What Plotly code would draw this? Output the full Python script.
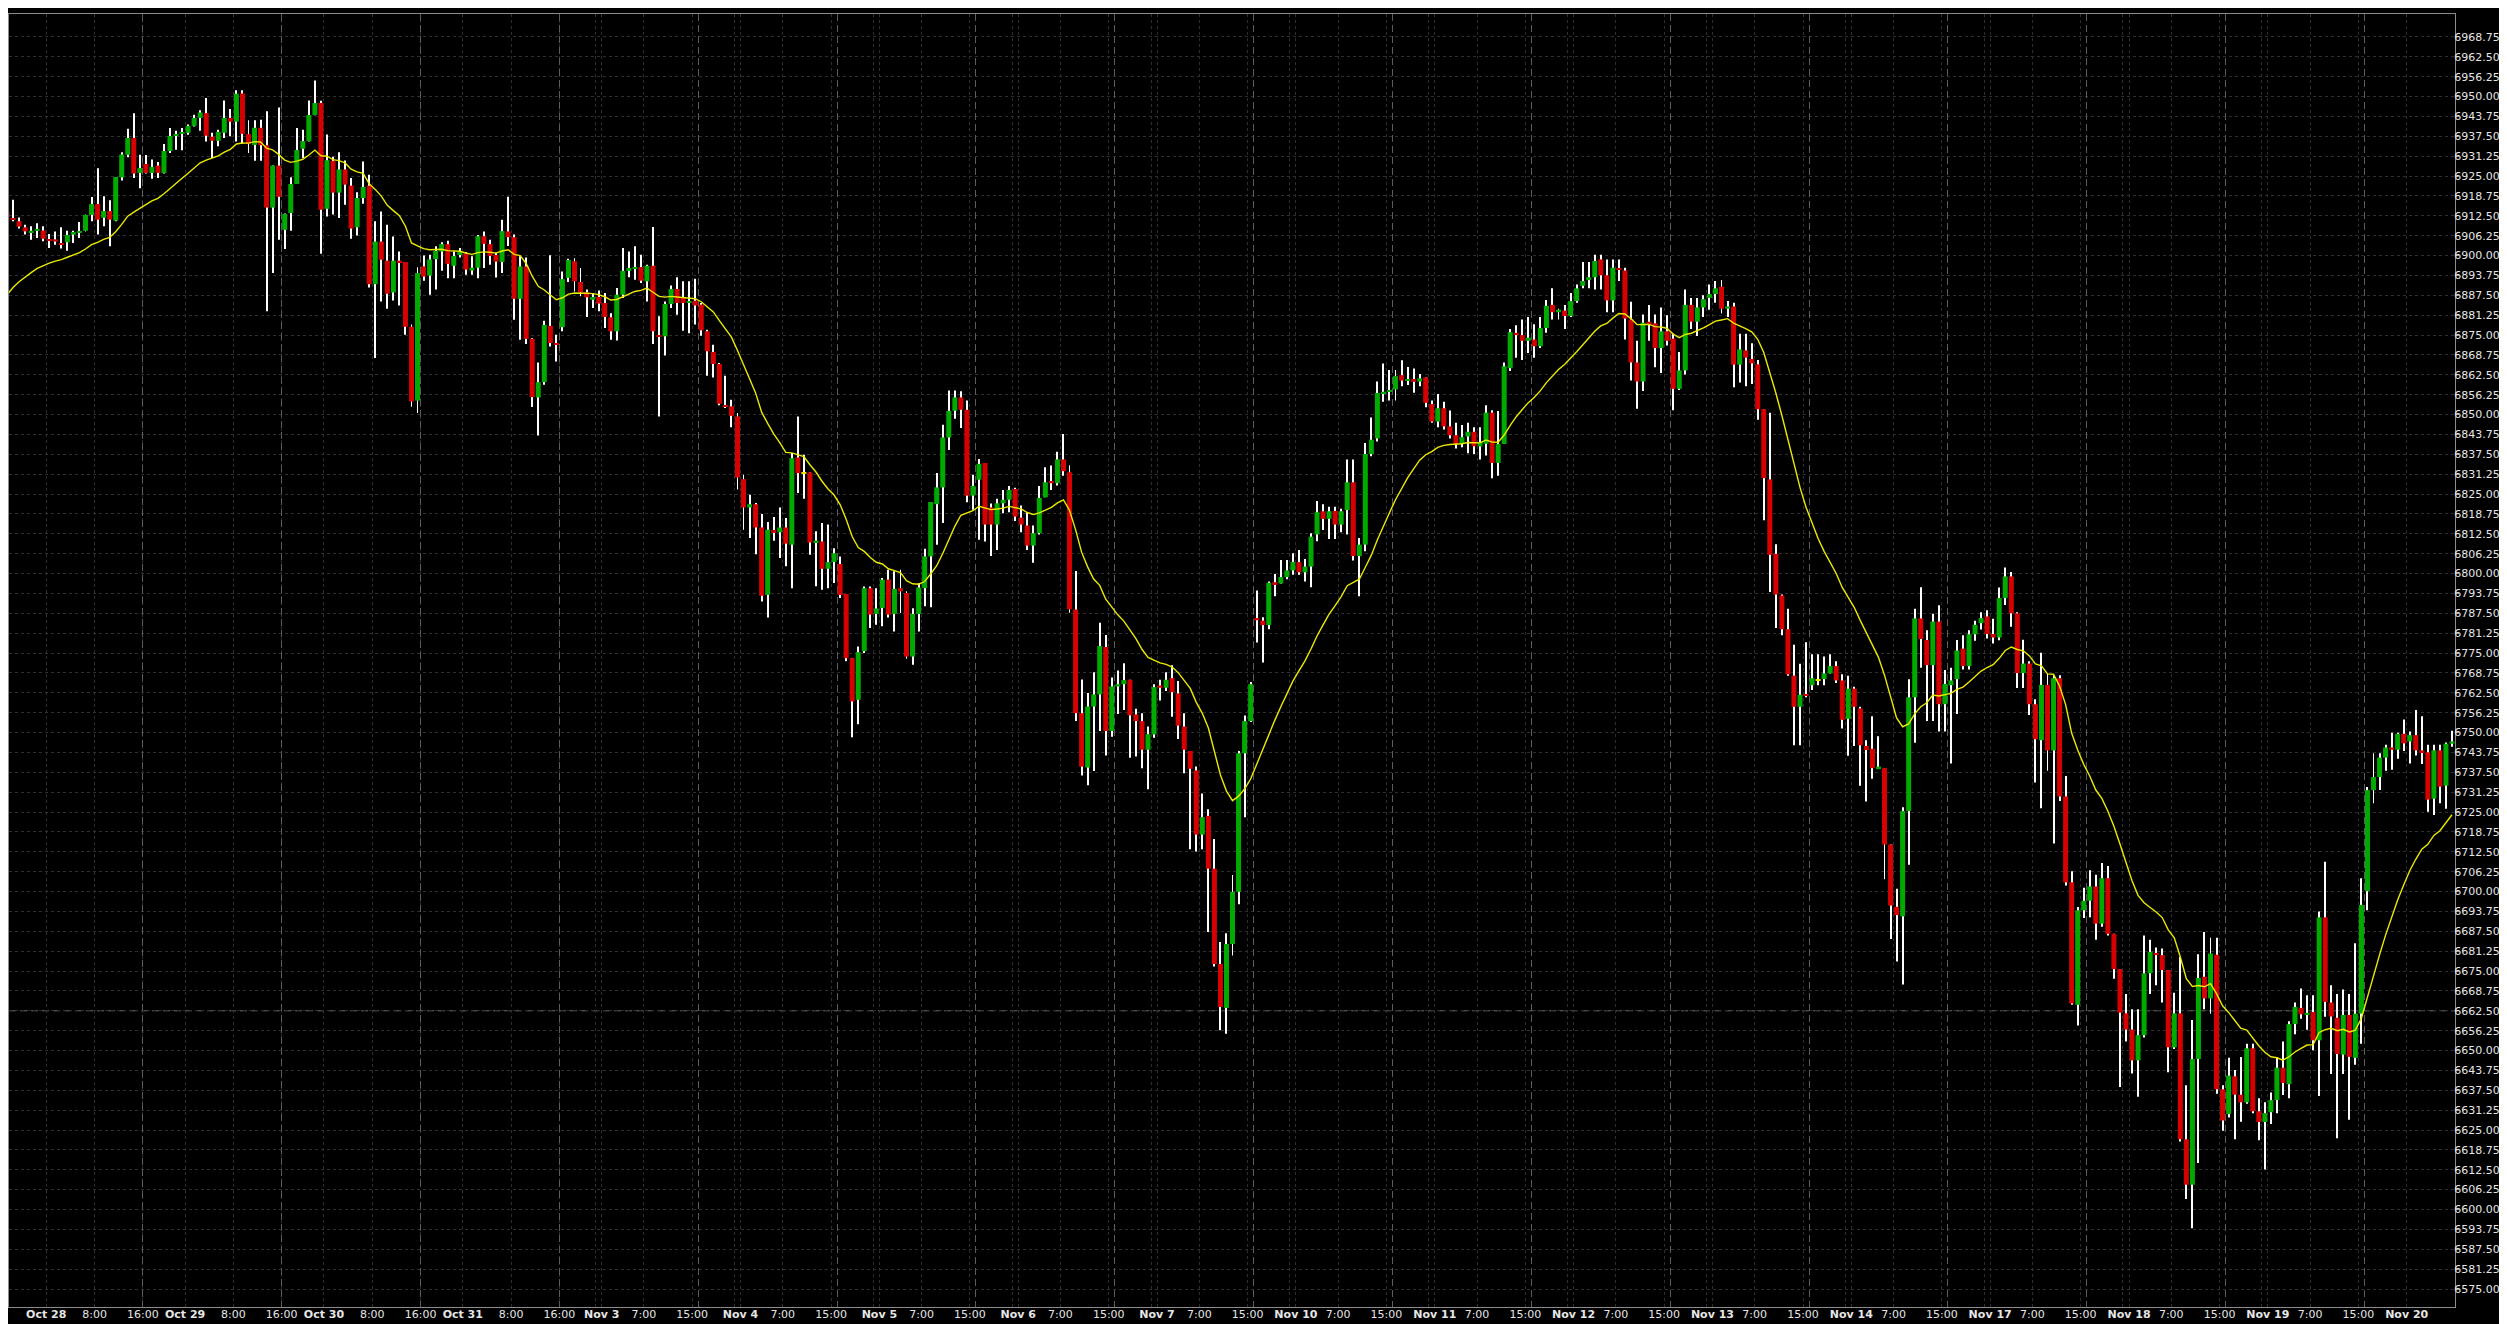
import plotly.graph_objects as go

# ---------------- data (hourly bars) ----------------
OPEN = [
6913.7, 6911.8, 6910.8, 6908.9, 6907.4, 6907.8, 6907.9, 6905.1, 6905.1, 6903.9,
6904.2, 6906.6, 6907.2, 6907.8, 6912.8, 6916.2, 6911.9, 6914.0, 6911.0, 6924.6,
6931.7, 6937.0, 6926.0, 6928.8, 6926.0, 6928.3, 6926.0, 6932.9, 6937.7, 6938.4,
6938.6, 6940.8, 6943.3, 6944.8, 6937.4, 6936.1, 6938.6, 6943.3, 6942.1, 6951.0,
6938.2, 6934.8, 6940.2, 6934.7, 6915.1, 6928.3, 6908.1, 6913.4, 6922.5, 6933.6,
6936.0, 6944.2, 6948.0, 6914.7, 6929.8, 6919.8, 6927.1, 6922.0, 6908.9, 6918.1,
6922.0, 6891.0, 6904.4, 6898.4, 6888.4, 6898.4, 6898.0, 6877.6, 6854.4, 6896.6,
6893.7, 6898.9, 6901.3, 6903.6, 6896.8, 6900.5, 6900.7, 6895.3, 6896.2, 6906.1,
6903.6, 6900.2, 6898.0, 6907.6, 6905.8, 6886.4, 6896.6, 6873.8, 6855.4, 6860.2,
6877.9, 6872.5, 6877.5, 6893.0, 6898.2, 6891.7, 6888.5, 6886.1, 6887.0, 6885.1,
6880.6, 6876.2, 6887.7, 6895.2, 6895.9, 6896.4, 6891.9, 6896.8, 6874.9, 6874.6,
6884.8, 6889.5, 6886.9, 6885.1, 6885.8, 6884.6, 6876.2, 6869.7, 6865.9, 6852.9,
6852.6, 6849.4, 6829.7, 6820.8, 6821.8, 6814.5, 6793.3, 6813.7, 6813.0, 6814.5,
6809.1, 6836.5, 6831.4, 6831.8, 6809.6, 6810.1, 6801.5, 6803.6, 6803.0, 6793.6,
6773.4, 6760.3, 6775.6, 6795.4, 6787.3, 6789.2, 6798.1, 6787.3, 6795.4, 6793.9,
6773.9, 6787.3, 6795.4, 6805.4, 6821.8, 6827.1, 6842.8, 6851.2, 6855.4, 6851.5,
6824.5, 6829.5, 6834.8, 6820.8, 6815.4, 6822.1, 6823.2, 6826.6, 6817.6, 6815.1,
6808.8, 6812.7, 6824.0, 6829.1, 6828.4, 6835.9, 6831.9, 6788.7, 6756.1, 6739.0,
6758.2, 6762.0, 6776.9, 6750.5, 6764.5, 6765.2, 6766.6, 6755.7, 6753.6, 6744.6,
6749.4, 6764.8, 6764.1, 6767.1, 6762.3, 6751.9, 6744.2, 6738.1, 6717.9, 6723.8,
6707.2, 6677.2, 6663.4, 6683.5, 6699.9, 6743.5, 6753.6, 6786.0, 6785.2, 6783.8,
6797.3, 6796.9, 6798.9, 6801.0, 6803.6, 6800.4, 6802.2, 6812.3, 6819.6, 6817.2,
6819.7, 6815.4, 6820.0, 6828.7, 6805.5, 6809.1, 6837.6, 6842.5, 6856.7, 6857.1,
6857.9, 6862.4, 6860.7, 6861.2, 6860.4, 6861.7, 6853.3, 6847.8, 6852.0, 6846.3,
6843.5, 6840.8, 6843.1, 6844.6, 6840.0, 6840.8, 6850.6, 6834.8, 6840.8, 6864.6,
6875.7, 6875.0, 6873.2, 6873.6, 6871.5, 6877.2, 6884.5, 6882.2, 6882.7, 6881.0,
6885.7, 6890.5, 6892.3, 6893.2, 6898.8, 6893.8, 6885.9, 6896.1, 6895.3, 6879.9,
6866.4, 6860.4, 6879.2, 6878.7, 6870.9, 6876.2, 6873.9, 6858.1, 6863.9, 6884.5,
6879.2, 6883.7, 6886.7, 6887.9, 6890.2, 6883.3, 6884.0, 6865.7, 6870.2, 6867.5,
6865.8, 6851.7, 6829.6, 6806.2, 6793.1, 6782.5, 6767.9, 6758.1, 6762.1, 6764.9,
6766.4, 6766.8, 6768.6, 6770.9, 6766.4, 6754.3, 6763.8, 6757.6, 6745.8, 6744.9,
6738.5, 6738.8, 6714.8, 6695.2, 6692.2, 6725.3, 6761.1, 6785.9, 6779.1, 6771.2,
6784.9, 6758.9, 6764.9, 6766.8, 6776.4, 6770.9, 6780.9, 6784.4, 6786.5, 6781.0,
6779.9, 6792.3, 6799.1, 6787.5, 6768.7, 6771.7, 6758.9, 6747.6, 6765.0, 6744.4,
6767.1, 6729.9, 6702.9, 6664.4, 6694.1, 6697.1, 6701.6, 6689.9, 6704.2, 6686.7,
6675.6, 6661.7, 6656.6, 6646.9, 6654.8, 6674.3, 6680.7, 6680.0, 6675.3, 6651.0,
6661.7, 6622.1, 6607.8, 6647.3, 6673.2, 6666.4, 6680.1, 6637.8, 6630.0, 6641.9,
6636.1, 6633.7, 6650.7, 6630.9, 6627.5, 6630.6, 6634.4, 6644.6, 6639.4, 6658.3,
6663.4, 6661.4, 6662.1, 6653.2, 6691.9, 6665.1, 6660.3, 6648.7, 6661.2, 6647.7,
6661.6, 6700.1, 6731.9, 6736.0, 6742.1, 6745.3, 6744.6, 6749.6, 6747.2, 6749.2,
6744.4, 6743.8, 6729.2, 6744.4, 6733.3, 6746.5,
]

HIGH = [
6915.0, 6917.6, 6912.0, 6909.7, 6909.2, 6910.2, 6909.2, 6906.8, 6907.6, 6908.9,
6907.8, 6907.8, 6910.6, 6912.9, 6918.4, 6927.5, 6918.7, 6917.4, 6924.7, 6932.5,
6939.9, 6944.8, 6931.7, 6931.6, 6930.2, 6929.4, 6935.1, 6940.1, 6939.3, 6940.1,
6941.2, 6944.3, 6945.7, 6949.6, 6938.6, 6939.6, 6948.8, 6946.1, 6952.0, 6952.0,
6942.6, 6942.6, 6942.7, 6945.4, 6928.3, 6946.6, 6913.2, 6924.6, 6940.1, 6939.6,
6948.8, 6955.1, 6948.7, 6938.1, 6931.1, 6932.5, 6929.9, 6924.4, 6919.9, 6929.6,
6925.4, 6910.8, 6913.9, 6909.7, 6906.0, 6901.3, 6898.0, 6878.3, 6896.3, 6900.0,
6900.3, 6902.9, 6904.2, 6904.7, 6901.3, 6902.4, 6901.1, 6899.8, 6906.5, 6907.6,
6905.0, 6901.0, 6911.3, 6918.5, 6906.6, 6899.8, 6899.4, 6874.0, 6866.4, 6879.5,
6900.1, 6875.1, 6895.0, 6899.0, 6899.2, 6896.1, 6889.3, 6888.2, 6889.0, 6888.2,
6881.9, 6889.8, 6902.4, 6901.3, 6902.9, 6900.3, 6897.1, 6909.0, 6880.9, 6885.6,
6890.6, 6893.2, 6891.9, 6891.9, 6892.7, 6885.1, 6876.7, 6872.0, 6866.2, 6862.2,
6854.7, 6850.5, 6831.1, 6824.8, 6822.2, 6818.7, 6816.2, 6817.8, 6820.8, 6817.5,
6837.9, 6849.4, 6837.4, 6831.8, 6813.3, 6815.9, 6815.4, 6808.0, 6805.4, 6793.6,
6773.4, 6777.1, 6795.9, 6795.9, 6795.4, 6798.6, 6801.2, 6800.7, 6801.2, 6794.4,
6789.1, 6797.0, 6807.8, 6822.5, 6831.6, 6846.8, 6857.6, 6857.6, 6857.3, 6854.4,
6831.1, 6836.0, 6834.8, 6822.0, 6823.5, 6826.3, 6827.5, 6827.0, 6821.4, 6819.3,
6815.1, 6827.5, 6833.4, 6834.0, 6838.3, 6843.9, 6834.1, 6800.8, 6766.7, 6762.4,
6769.0, 6784.5, 6780.7, 6767.3, 6769.5, 6771.8, 6766.6, 6757.5, 6756.1, 6751.9,
6765.2, 6766.6, 6769.0, 6771.2, 6766.2, 6756.1, 6744.2, 6739.3, 6730.8, 6725.9,
6716.5, 6684.1, 6686.9, 6705.2, 6744.2, 6755.4, 6765.9, 6794.7, 6786.3, 6797.5,
6799.9, 6804.3, 6804.3, 6806.4, 6807.4, 6804.6, 6812.7, 6822.8, 6821.8, 6821.0,
6821.0, 6820.4, 6835.9, 6835.9, 6811.2, 6841.1, 6849.1, 6860.4, 6866.1, 6864.0,
6864.0, 6867.1, 6865.0, 6864.5, 6862.8, 6861.7, 6854.4, 6856.5, 6854.0, 6851.3,
6847.4, 6846.7, 6847.4, 6846.0, 6846.0, 6852.9, 6851.4, 6851.1, 6866.4, 6876.9,
6878.1, 6879.9, 6880.7, 6878.4, 6880.7, 6886.0, 6889.7, 6883.3, 6884.5, 6888.2,
6890.9, 6898.0, 6898.0, 6900.3, 6900.3, 6898.8, 6898.8, 6898.8, 6896.2, 6885.5,
6873.2, 6881.5, 6884.5, 6881.5, 6883.7, 6881.2, 6875.4, 6869.7, 6889.3, 6886.7,
6886.7, 6887.5, 6890.9, 6892.0, 6892.3, 6885.7, 6885.2, 6875.4, 6875.4, 6872.4,
6867.2, 6851.7, 6850.6, 6809.2, 6793.4, 6788.9, 6777.6, 6771.6, 6778.4, 6774.6,
6774.6, 6773.9, 6774.6, 6772.4, 6768.3, 6767.9, 6764.4, 6758.1, 6747.6, 6755.1,
6748.8, 6738.8, 6714.8, 6700.9, 6726.5, 6766.8, 6788.9, 6795.7, 6782.2, 6787.4,
6790.0, 6769.7, 6770.4, 6779.1, 6780.6, 6782.2, 6785.2, 6787.8, 6788.5, 6785.8,
6795.6, 6801.9, 6800.5, 6787.8, 6779.2, 6772.4, 6760.5, 6775.1, 6768.7, 6768.0,
6768.0, 6736.3, 6706.4, 6695.1, 6701.2, 6706.7, 6705.3, 6709.0, 6708.0, 6686.7,
6675.6, 6667.8, 6663.0, 6663.0, 6686.2, 6684.8, 6682.4, 6682.1, 6675.3, 6668.2,
6679.4, 6639.1, 6659.6, 6680.3, 6687.3, 6685.5, 6685.5, 6639.1, 6647.7, 6643.9,
6648.0, 6652.1, 6652.1, 6635.0, 6633.7, 6636.8, 6648.0, 6652.8, 6659.2, 6665.1,
6669.5, 6667.4, 6667.4, 6693.7, 6709.4, 6670.5, 6667.8, 6669.2, 6667.8, 6683.7,
6704.2, 6732.9, 6743.5, 6743.5, 6746.2, 6749.9, 6749.9, 6754.1, 6750.3, 6757.1,
6755.1, 6746.2, 6746.2, 6746.2, 6746.9, 6750.6,
]

LOW = [
6911.0, 6910.8, 6908.5, 6906.6, 6905.0, 6905.5, 6904.5, 6902.4, 6903.4, 6902.2,
6901.5, 6904.0, 6905.5, 6907.6, 6910.8, 6906.6, 6909.2, 6902.9, 6910.8, 6923.6,
6930.9, 6924.4, 6921.2, 6925.8, 6924.2, 6924.4, 6925.8, 6932.3, 6933.3, 6933.1,
6938.0, 6940.6, 6939.3, 6935.9, 6930.7, 6934.4, 6937.0, 6937.5, 6935.9, 6935.1,
6932.3, 6929.8, 6929.8, 6882.5, 6894.5, 6905.0, 6902.1, 6907.8, 6922.5, 6930.7,
6935.9, 6944.1, 6900.6, 6912.3, 6912.9, 6911.8, 6916.0, 6905.3, 6906.3, 6916.3,
6890.0, 6867.8, 6885.6, 6883.3, 6885.9, 6884.3, 6875.1, 6852.5, 6850.5, 6892.1,
6887.7, 6889.3, 6895.2, 6892.9, 6892.9, 6899.4, 6894.0, 6894.0, 6892.9, 6896.1,
6897.1, 6893.1, 6894.5, 6903.0, 6879.8, 6873.5, 6872.2, 6852.4, 6843.4, 6859.4,
6871.4, 6866.7, 6876.2, 6891.7, 6888.7, 6887.2, 6880.7, 6883.5, 6882.5, 6877.2,
6873.5, 6873.3, 6886.7, 6893.2, 6892.4, 6891.4, 6885.6, 6872.2, 6849.4, 6868.6,
6883.5, 6881.4, 6876.4, 6875.6, 6878.3, 6874.8, 6862.2, 6861.7, 6852.9, 6852.1,
6846.0, 6826.4, 6813.8, 6811.2, 6806.1, 6791.2, 6786.2, 6810.3, 6804.9, 6802.3,
6795.4, 6825.3, 6823.5, 6805.9, 6796.0, 6794.9, 6795.4, 6797.0, 6792.3, 6772.4,
6748.5, 6752.6, 6775.0, 6782.9, 6783.9, 6783.4, 6786.2, 6781.8, 6787.6, 6773.2,
6771.3, 6781.8, 6789.7, 6789.4, 6809.1, 6815.9, 6838.9, 6848.7, 6845.8, 6822.4,
6820.1, 6810.6, 6810.1, 6805.5, 6807.4, 6819.0, 6819.3, 6816.5, 6813.0, 6807.4,
6803.4, 6812.3, 6824.0, 6826.3, 6827.7, 6830.8, 6787.7, 6753.6, 6736.5, 6733.4,
6737.9, 6750.5, 6742.8, 6748.7, 6755.8, 6757.1, 6742.1, 6742.5, 6738.8, 6732.2,
6748.4, 6760.1, 6763.1, 6755.0, 6748.0, 6737.2, 6713.3, 6712.6, 6713.3, 6687.3,
6676.4, 6656.4, 6655.3, 6679.9, 6696.0, 6723.4, 6753.3, 6778.3, 6772.0, 6782.5,
6792.9, 6796.9, 6798.2, 6799.6, 6799.6, 6797.5, 6795.7, 6810.2, 6813.7, 6810.9,
6810.9, 6813.0, 6812.3, 6804.1, 6792.9, 6807.0, 6836.9, 6841.5, 6854.0, 6854.4,
6854.4, 6858.9, 6859.3, 6856.9, 6858.9, 6852.3, 6847.4, 6846.0, 6845.3, 6842.5,
6839.3, 6839.7, 6837.8, 6837.6, 6835.9, 6837.1, 6830.0, 6830.8, 6840.8, 6863.7,
6867.9, 6867.2, 6869.4, 6867.9, 6870.9, 6875.7, 6879.9, 6879.9, 6876.9, 6880.7,
6885.2, 6889.7, 6889.7, 6889.3, 6889.3, 6882.2, 6882.2, 6892.0, 6873.6, 6860.7,
6851.8, 6857.4, 6873.2, 6864.9, 6863.1, 6871.7, 6851.4, 6857.7, 6862.6, 6876.9,
6874.7, 6880.7, 6883.0, 6885.2, 6881.8, 6880.7, 6858.6, 6860.1, 6858.9, 6859.6,
6848.4, 6816.8, 6794.2, 6782.9, 6780.6, 6767.9, 6746.0, 6746.0, 6761.1, 6763.4,
6764.9, 6764.9, 6768.6, 6765.6, 6751.3, 6742.7, 6745.8, 6733.3, 6728.3, 6735.5,
6738.5, 6703.9, 6685.1, 6678.0, 6670.8, 6708.4, 6746.8, 6770.4, 6753.6, 6753.6,
6750.3, 6750.3, 6740.3, 6755.8, 6769.8, 6769.8, 6778.9, 6782.4, 6779.6, 6778.0,
6779.0, 6790.1, 6783.3, 6764.0, 6764.0, 6755.5, 6734.3, 6726.2, 6738.0, 6715.1,
6728.5, 6701.9, 6664.4, 6657.9, 6691.7, 6691.9, 6684.8, 6688.9, 6686.2, 6672.6,
6638.5, 6652.8, 6642.8, 6635.5, 6654.1, 6667.8, 6670.5, 6665.1, 6643.2, 6650.5,
6621.4, 6603.3, 6594.1, 6614.6, 6663.0, 6661.6, 6636.4, 6624.8, 6628.9, 6622.1,
6627.6, 6633.3, 6630.3, 6621.8, 6612.6, 6626.9, 6630.3, 6636.0, 6635.0, 6655.1,
6660.0, 6656.5, 6650.1, 6635.7, 6660.6, 6642.6, 6622.4, 6642.6, 6628.2, 6645.5,
6652.1, 6694.1, 6727.8, 6731.9, 6738.0, 6738.3, 6741.8, 6744.2, 6740.3, 6742.8,
6740.1, 6725.1, 6724.1, 6727.8, 6726.0, 6745.5,
]

CLOSE = [
6912.0, 6911.3, 6909.1, 6907.6, 6907.8, 6908.4, 6905.3, 6904.7, 6904.4, 6903.4,
6906.5, 6907.4, 6907.7, 6912.8, 6916.2, 6911.3, 6914.0, 6911.3, 6924.7, 6931.8,
6937.0, 6925.8, 6927.5, 6926.0, 6927.9, 6926.0, 6932.9, 6937.6, 6938.2, 6938.8,
6940.8, 6943.3, 6945.0, 6937.7, 6936.1, 6938.9, 6943.3, 6942.1, 6950.9, 6938.3,
6935.1, 6940.2, 6934.7, 6915.1, 6928.3, 6918.5, 6913.1, 6922.5, 6933.2, 6936.0,
6944.2, 6948.0, 6914.4, 6930.0, 6919.8, 6927.1, 6922.3, 6908.5, 6918.1, 6921.6,
6891.0, 6904.4, 6898.7, 6888.0, 6898.4, 6897.8, 6877.6, 6854.1, 6894.5, 6893.4,
6898.8, 6901.5, 6903.6, 6897.4, 6899.9, 6901.1, 6895.6, 6896.2, 6906.1, 6903.7,
6899.9, 6898.1, 6907.7, 6905.8, 6886.4, 6896.6, 6873.8, 6855.5, 6860.2, 6878.2,
6872.5, 6872.0, 6892.6, 6898.6, 6891.9, 6888.5, 6886.9, 6887.0, 6884.9, 6880.7,
6876.2, 6887.7, 6895.2, 6896.1, 6896.4, 6892.1, 6896.8, 6876.2, 6874.5, 6884.8,
6889.5, 6885.1, 6885.1, 6885.4, 6884.3, 6876.5, 6869.9, 6865.9, 6853.4, 6852.4,
6849.6, 6830.2, 6820.8, 6821.8, 6814.5, 6793.0, 6813.8, 6812.8, 6814.5, 6809.4,
6836.3, 6831.6, 6831.4, 6809.8, 6810.4, 6801.5, 6803.6, 6806.4, 6793.3, 6773.4,
6759.8, 6775.3, 6795.4, 6787.1, 6789.0, 6798.1, 6787.1, 6795.2, 6794.4, 6773.9,
6787.3, 6795.6, 6805.4, 6822.5, 6827.1, 6842.8, 6851.2, 6855.4, 6851.5, 6824.5,
6827.6, 6834.5, 6815.4, 6815.4, 6822.1, 6823.2, 6826.3, 6817.9, 6815.4, 6808.8,
6812.7, 6823.8, 6828.7, 6828.4, 6835.9, 6832.2, 6788.8, 6756.1, 6739.3, 6758.2,
6762.0, 6777.2, 6750.5, 6764.5, 6765.2, 6766.5, 6755.4, 6753.6, 6744.6, 6749.5,
6764.3, 6764.1, 6766.6, 6762.7, 6752.2, 6744.6, 6738.6, 6717.9, 6723.4, 6707.2,
6677.2, 6663.7, 6683.5, 6699.9, 6743.5, 6753.6, 6765.2, 6785.3, 6783.8, 6797.1,
6796.7, 6798.9, 6801.0, 6803.6, 6800.4, 6802.2, 6811.6, 6819.3, 6817.2, 6819.6,
6815.4, 6819.6, 6828.7, 6805.5, 6809.1, 6837.6, 6842.1, 6856.8, 6857.2, 6857.5,
6862.1, 6860.7, 6861.2, 6860.3, 6861.4, 6853.7, 6847.8, 6852.0, 6846.3, 6843.5,
6840.8, 6842.9, 6844.6, 6840.0, 6841.4, 6850.6, 6834.8, 6840.8, 6865.2, 6875.9,
6875.0, 6873.2, 6874.2, 6871.5, 6877.2, 6884.2, 6882.2, 6883.0, 6881.0, 6885.7,
6889.7, 6892.0, 6893.2, 6898.3, 6893.8, 6885.9, 6896.2, 6895.5, 6880.2, 6866.4,
6860.4, 6878.9, 6878.6, 6870.9, 6876.2, 6873.2, 6858.1, 6863.9, 6884.5, 6879.2,
6883.7, 6886.3, 6887.9, 6889.7, 6883.3, 6884.0, 6865.7, 6870.5, 6867.9, 6866.1,
6851.7, 6830.0, 6805.9, 6793.4, 6782.5, 6768.3, 6758.1, 6761.9, 6761.5, 6767.1,
6766.4, 6768.6, 6770.9, 6766.4, 6754.0, 6763.8, 6758.1, 6746.0, 6744.5, 6738.8,
6739.3, 6714.8, 6695.6, 6692.6, 6725.3, 6761.1, 6785.9, 6779.4, 6771.2, 6784.9,
6758.9, 6765.3, 6766.4, 6775.8, 6770.9, 6780.9, 6783.9, 6786.0, 6781.0, 6779.9,
6792.3, 6799.1, 6787.5, 6768.7, 6771.7, 6758.9, 6747.9, 6765.0, 6744.4, 6767.1,
6729.9, 6702.9, 6664.8, 6694.1, 6697.1, 6701.6, 6689.9, 6704.2, 6686.7, 6675.6,
6661.9, 6656.6, 6646.9, 6654.8, 6674.3, 6681.0, 6680.0, 6675.3, 6651.0, 6661.7,
6622.1, 6607.8, 6647.3, 6672.8, 6666.4, 6680.5, 6637.8, 6628.0, 6642.1, 6636.1,
6633.7, 6650.7, 6630.9, 6627.5, 6630.3, 6634.4, 6644.6, 6639.8, 6658.3, 6663.7,
6661.4, 6661.8, 6653.2, 6691.9, 6665.3, 6660.7, 6648.9, 6661.2, 6648.0, 6661.6,
6695.8, 6731.9, 6736.0, 6742.1, 6745.3, 6744.6, 6749.6, 6746.6, 6749.2, 6744.4,
6743.8, 6728.9, 6744.4, 6733.0, 6746.5, 6747.2,
]

DAY_LABELS = ["Oct 28", "Oct 29", "Oct 30", "Oct 31", "Nov 3", "Nov 4", "Nov 5",
              "Nov 6", "Nov 7", "Nov 10", "Nov 11", "Nov 12", "Nov 13", "Nov 14",
              "Nov 17", "Nov 18", "Nov 19", "Nov 20"]
TIME_LABELS_OCT = ["8:00", "16:00"]   # before the clock change
TIME_LABELS_NOV = ["7:00", "15:00"]   # after the clock change

PRICE_TICK_FIRST = 6575.00
PRICE_TICK_LAST = 6968.75
PRICE_TICK_STEP = 6.25

MA_PERIOD = 20
MA_START = 6887.7          # indicator value at the first visible bar
REF_LEVEL = 6662.50        # dashed horizontal level

# ---------------- style ----------------
UP = "#00AA00"
DOWN = "#D70000"
FLAT = "#E6E600"
WICK = "#FFFFFF"
MA_COLOR = "#EAEA00"
GRID = "#2e2e2e"
SESSION_GRID = "#5c5c5c"
AXIS = "#8c8c8c"
TEXT = "#E6E6E6"
FONT = "DejaVu Sans"

BARS_PER_SESSION = 23
DAY_OFFSET = 6.5
BODY_W = 0.83
WICK_W = 0.16
DOJI_H = 0.45

n = len(CLOSE)
assert len(OPEN) == n and len(HIGH) == n and len(LOW) == n
idx = list(range(n))

hi = [max(h, o, c) for h, o, c in zip(HIGH, OPEN, CLOSE)]
lo = [min(l, o, c) for l, o, c in zip(LOW, OPEN, CLOSE)]
body_base = [min(o, c) for o, c in zip(OPEN, CLOSE)]
body_h = [max(abs(c - o), DOJI_H) for o, c in zip(OPEN, CLOSE)]
body_col = [UP if c > o else (DOWN if c < o else FLAT) for o, c in zip(OPEN, CLOSE)]

alpha = 2.0 / (MA_PERIOD + 1)
ma = []
prev = MA_START
for i, c in enumerate(CLOSE):
    if i > 0:
        prev = prev + alpha * (c - prev)
    ma.append(prev)

fig = go.Figure()
fig.add_trace(go.Bar(x=idx, base=lo, y=[h - l for h, l in zip(hi, lo)], width=WICK_W,
                     marker=dict(color=WICK, line=dict(width=0)), hoverinfo="skip"))
fig.add_trace(go.Bar(x=idx, base=body_base, y=body_h, width=BODY_W,
                     marker=dict(color=body_col, line=dict(width=0)), hoverinfo="skip"))
fig.add_trace(go.Scatter(x=idx, y=ma, mode="lines", xaxis="x2",
                         line=dict(color=MA_COLOR, width=1.4), hoverinfo="skip"))

# x ticks
tickvals, ticktext, extra = [], [], []
n_days = len(DAY_LABELS)
for d, name in enumerate(DAY_LABELS):
    base = DAY_OFFSET + BARS_PER_SESSION * d
    tickvals.append(base)
    ticktext.append("<b>%s</b>" % name)
    if d == n_days - 1:
        continue
    if d < 4:
        tickvals += [base + 8, base + 16]
        ticktext += TIME_LABELS_OCT
    else:
        tickvals += [base + 7, base + 15]
        ticktext += TIME_LABELS_NOV
        extra.append(base - 1)
session_breaks = [DAY_OFFSET + 16 + BARS_PER_SESSION * d for d in range(n_days - 1)]

# y ticks
ytickvals = []
v = PRICE_TICK_FIRST
while v <= PRICE_TICK_LAST + 1e-9:
    ytickvals.append(v)
    v += PRICE_TICK_STEP
yticktext = ["%.2f" % t for t in ytickvals]

fig.add_hline(y=REF_LEVEL, line=dict(color="#6a6a6a", width=1, dash="7px,4px"), layer="below")

fig.update_layout(
    width=2507, height=1324,
    margin=dict(l=1, r=60, t=6, b=25),
    paper_bgcolor="#000000", plot_bgcolor="#000000",
    showlegend=False, barmode="overlay",
    xaxis=dict(range=[0.33, n - 0.5], tickmode="array", tickvals=tickvals, ticktext=ticktext,
               tickfont=dict(family=FONT, size=11, color=TEXT), ticks="", ticklabelstandoff=-3,
               showgrid=True, gridcolor=GRID, griddash="3px,3px", gridwidth=1,
               minor=dict(tickmode="array", tickvals=extra, showgrid=True, gridcolor=GRID,
                          griddash="3px,3px", ticks=""),
               showline=True, linecolor=AXIS, linewidth=1, mirror=True, zeroline=False),
    xaxis2=dict(overlaying="x", matches="x", side="bottom", tickmode="array",
                tickvals=session_breaks, showticklabels=False, ticks="",
                showgrid=True, gridcolor=SESSION_GRID, griddash="7px,4px", gridwidth=1,
                showline=False, zeroline=False),
    yaxis=dict(side="right", range=[6569.34, 6975.98], tickmode="array",
               tickvals=ytickvals, ticktext=yticktext,
               tickfont=dict(family=FONT, size=11, color=TEXT),
               ticks="outside", ticklen=3, tickcolor=AXIS, ticklabelstandoff=-7,
               showgrid=True, gridcolor=GRID, griddash="3px,3px", gridwidth=1,
               showline=True, linecolor=AXIS, linewidth=1, mirror=True, zeroline=False),
)

fig.write_html("out.html", config={"displayModeBar": False})
